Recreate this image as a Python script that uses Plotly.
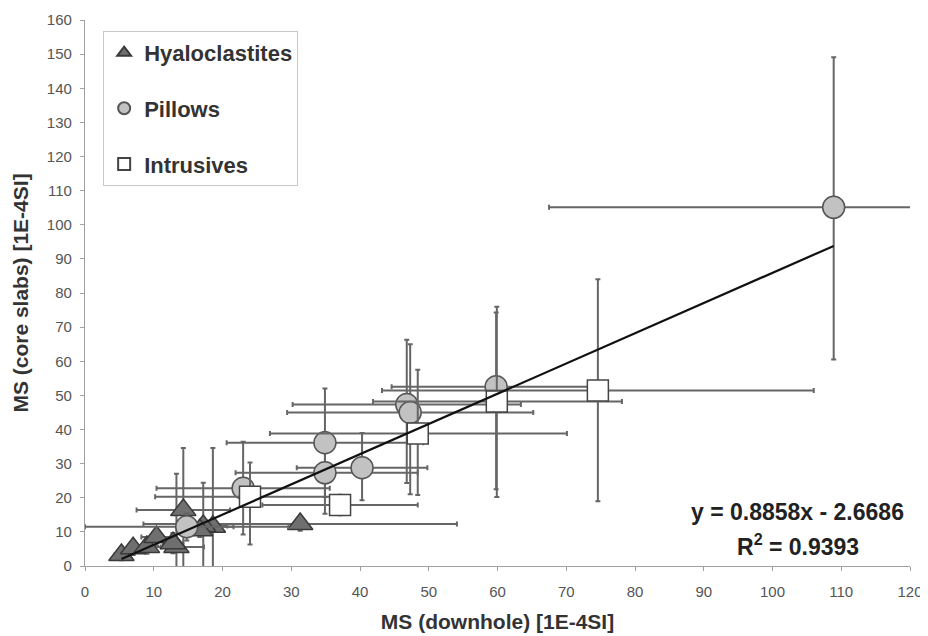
import plotly.graph_objects as go

# ---- data ----
hy_x  = [31.3, 14.3, 13.3, 18.6, 17.2, 5.3, 7.0, 9.0, 10.4, 12.8, 16.7]
hy_y  = [12.3, 16.4, 5.6, 11.5, 11.7, 3.2, 5.2, 5.6, 8.5, 6.7, 10.5]
hy_xm = [22.8, 6.8, 4.0, 3.0, 3.5, 1.0, 1.5, 2.0, 2.2, 1.5, 2.0]
hy_xp = [22.8, 6.8, 4.0, 3.0, 3.5, 1.0, 1.5, 2.0, 2.2, 1.5, 2.0]
hy_ym = [2.0, 18.0, 8.6, 14.5, 12.5, 1.5, 2.0, 2.0, 2.5, 3.0, 2.0]
hy_yp = [2.0, 18.2, 21.4, 23.1, 12.7, 1.5, 2.0, 2.0, 2.5, 3.0, 2.0]

pi_x  = [108.9, 59.8, 46.8, 47.3, 34.9, 34.9, 40.3, 23.0, 14.8]
pi_y  = [105.1, 52.5, 47.3, 45.0, 36.1, 27.3, 28.8, 22.8, 11.5]
pi_xm = [41.4, 15.2, 16.6, 17.9, 14.3, 13.0, 9.5, 12.6, 14.8]
pi_xp = [13.0, 15.2, 16.6, 17.9, 14.3, 13.5, 9.5, 12.6, 14.8]
pi_ym = [44.6, 30.0, 23.0, 24.0, 15.9, 12.0, 9.5, 13.6, 4.0]
pi_yp = [44.0, 21.8, 19.0, 20.0, 15.9, 12.0, 10.2, 13.6, 4.0]

in_x  = [74.6, 59.9, 48.4, 37.1, 24.0]
in_y  = [51.4, 48.2, 38.8, 17.9, 20.3]
in_xm = [31.4, 18.0, 21.5, 11.3, 13.8]
in_xp = [31.4, 18.2, 21.7, 11.3, 13.8]
in_ym = [32.4, 28.0, 18.0, 3.0, 14.0]
in_yp = [32.6, 27.8, 18.7, 3.0, 10.0]

slope, intercept = 0.8858, -2.6686
r2 = 0.9393

x_ticks = list(range(0, 121, 10))
y_ticks = list(range(0, 161, 10))

FONT = "Liberation Sans, Arial, sans-serif"
ERR_COLOR = "#666666"

def err(arr, arrm):
    return dict(type="data", symmetric=False, array=arr, arrayminus=arrm,
                color=ERR_COLOR, thickness=2, width=2.5)

fig = go.Figure()

series = [
    ("Hyaloclastites", hy_x, hy_y, hy_xm, hy_xp, hy_ym, hy_yp,
     "triangle-up", 22, "#6f6f6f", "#3a3a3a"),
    ("Pillows", pi_x, pi_y, pi_xm, pi_xp, pi_ym, pi_yp,
     "circle", 22, "#c2c2c2", "#555555"),
    ("Intrusives", in_x, in_y, in_xm, in_xp, in_ym, in_yp,
     "square", 21, "#ffffff", "#444444"),
]
for name, x, y, xm, xp, ym, yp, sym, size, fill, line in series:
    fig.add_trace(go.Scatter(
        x=x, y=y, mode="markers", name=f"<b>{name}</b>", legendgroup=name,
        marker=dict(symbol=sym, size=size, color=fill,
                    line=dict(color=line, width=1.5)),
        error_x=err(xp, xm), error_y=err(yp, ym),
        cliponaxis=False,
    ))

all_x = hy_x + pi_x + in_x
x0, x1 = min(all_x), max(all_x)
fig.add_trace(go.Scatter(
    x=[x0, x1], y=[slope * x0 + intercept, slope * x1 + intercept],
    mode="lines", line=dict(color="#111111", width=2.2),
    showlegend=False, hoverinfo="skip", cliponaxis=False,
))

axis_common = dict(
    showgrid=False, zeroline=False, showline=True, linecolor="#a0a0a0",
    linewidth=1.2, ticks="outside", ticklen=4, tickcolor="#a0a0a0",
    tickfont=dict(family=FONT, size=15, color="#555555"),
    title_font=dict(family=FONT, size=21, color="#333333"),
    automargin=False,
)

# the page body adds an 8 px offset, so the figure is 8 px smaller
fig.update_layout(
    width=920, height=628,
    margin=dict(l=77, r=18, t=12, b=70),
    paper_bgcolor="white", plot_bgcolor="white",
    font=dict(family=FONT),
    xaxis=dict(range=[0, 120], tickvals=x_ticks, ticktext=[str(v) for v in x_ticks],
               title=dict(text="<b>MS (downhole) [1E-4SI]</b>", standoff=15),
               ticklabelstandoff=8, **axis_common),
    yaxis=dict(range=[0, 160], tickvals=y_ticks, ticktext=[str(v) for v in y_ticks],
               title=dict(text="<b>MS (core slabs) [1E-4SI]</b>", standoff=12),
               ticklabelstandoff=5, **axis_common),
    legend=dict(x=0.022, y=0.980, xanchor="left", yanchor="top",
                bgcolor="white", bordercolor="#c8c8c8", borderwidth=1,
                font=dict(family=FONT, size=22, color="#333333"),
                itemsizing="constant", traceorder="grouped", tracegroupgap=24),
    showlegend=True,
    annotations=[
        dict(x=0.864, y=0.099, xref="paper", yref="paper", showarrow=False,
             xanchor="center", yanchor="middle",
             text=f"<b>y = {slope}x - {abs(intercept)}</b>",
             font=dict(family=FONT, size=23, color="#222222")),
        dict(x=0.864, y=0.038, xref="paper", yref="paper", showarrow=False,
             xanchor="center", yanchor="middle",
             text=f"<b>R<sup>2</sup> = {r2}</b>",
             font=dict(family=FONT, size=23, color="#222222")),
    ],
)

fig.write_html("out.html")
